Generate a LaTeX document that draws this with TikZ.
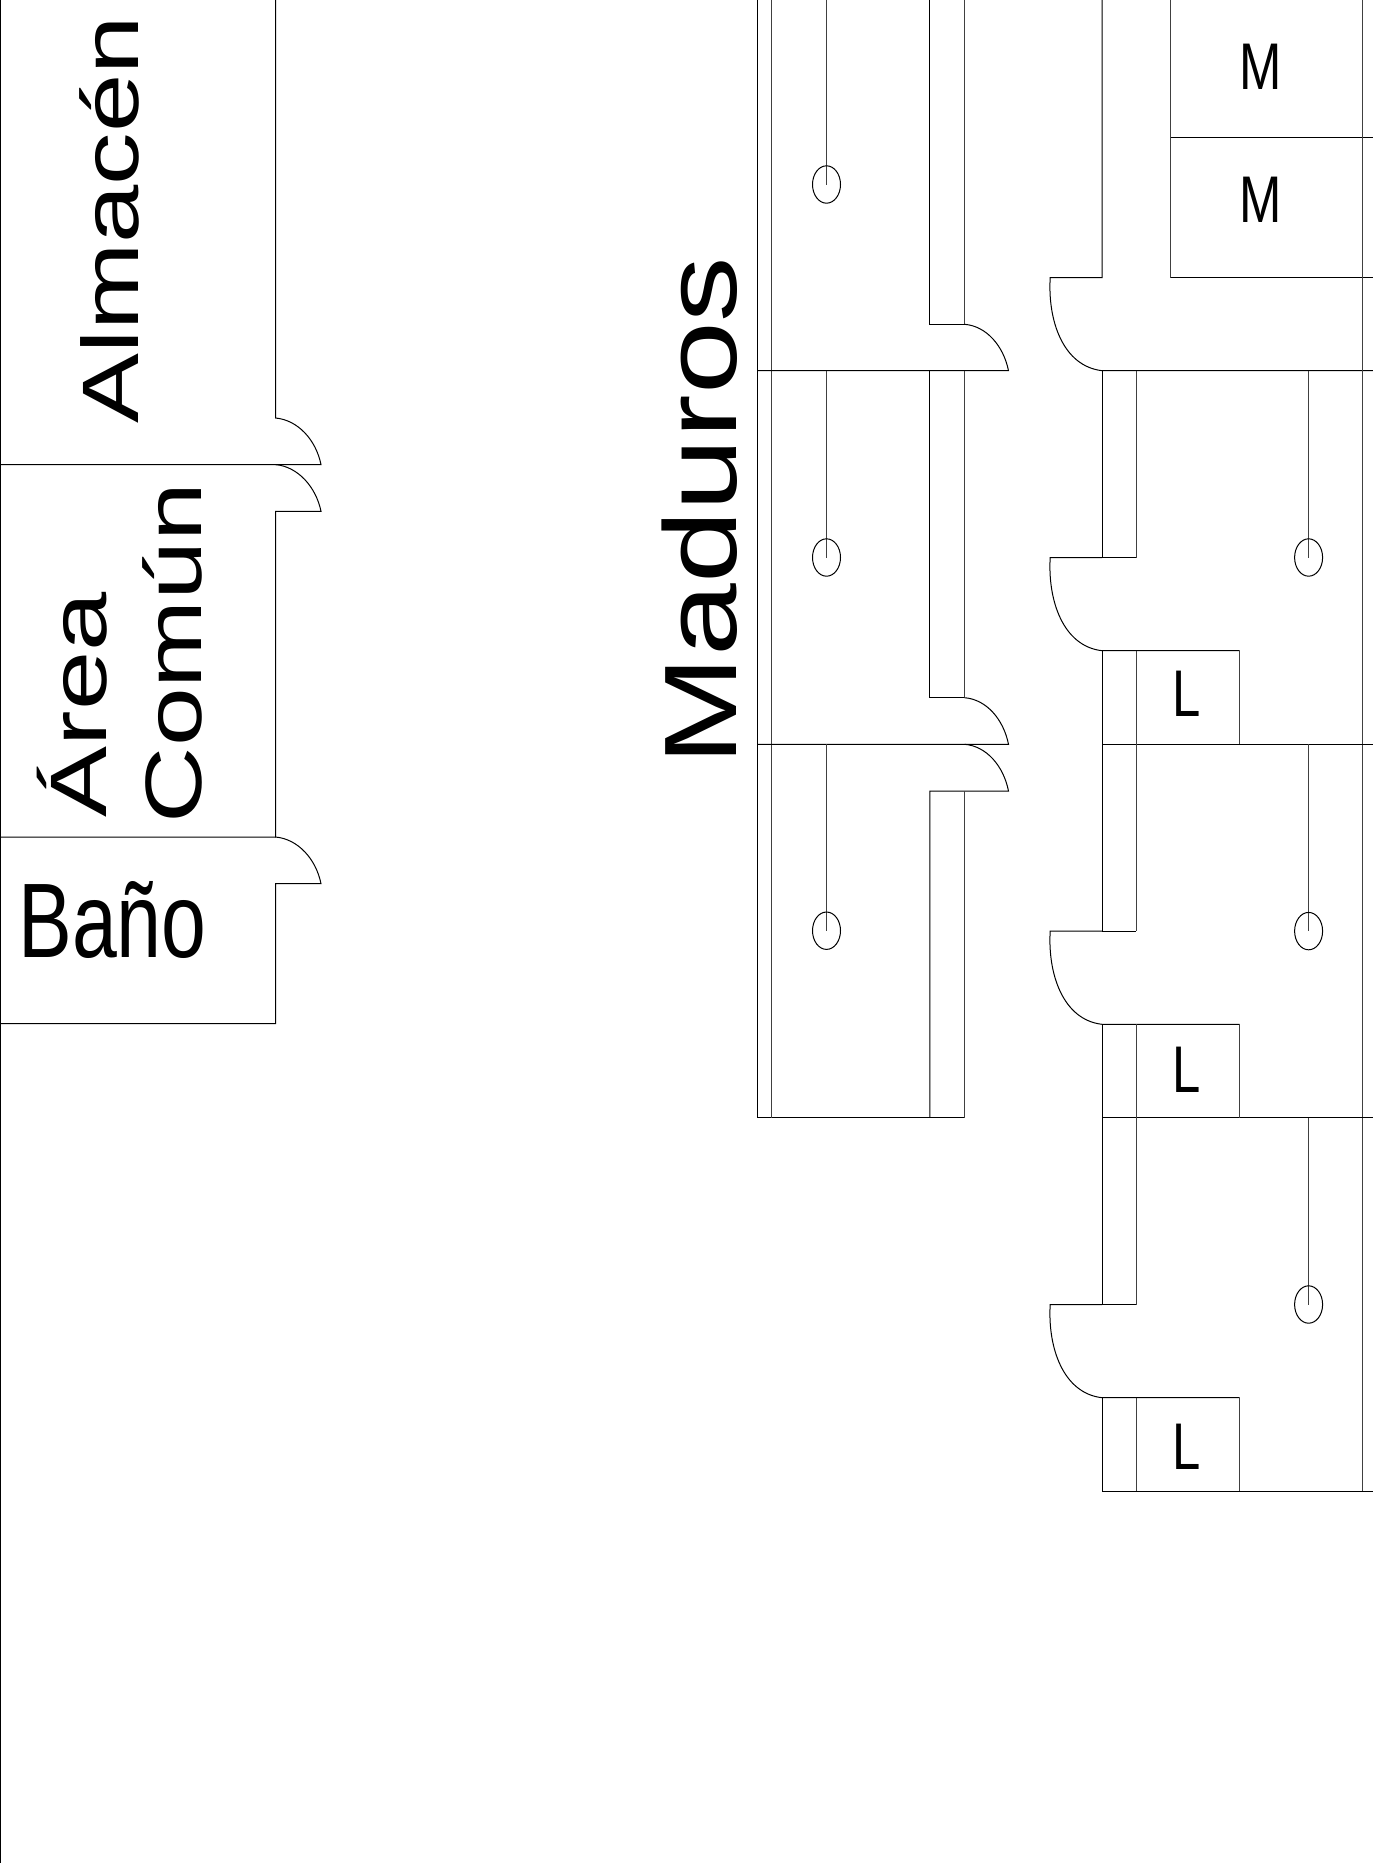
\documentclass[tikz,border=0pt]{standalone}
\usepackage{fontspec}
\setmainfont{Liberation Sans}
\tikzset{
  x=1pt,y=-1pt,
  plan/.style={line width=1pt,black},
  thin wall/.style={line width=1pt,black!75},
  label/.style={inner sep=0pt,outer sep=0pt,anchor=base,text=black},
}
\newcommand{\lab}[3]{\fontsize{#1}{#1}\selectfont\scalebox{#2}[1]{#3}}
\begin{document}
\begin{tikzpicture}
\useasboundingbox (0,0) rectangle (1373,1863);
\clip (0,0) rectangle (1373,1863);
% left block
\draw[plan] (0.7,0) -- (0.7,1863);
\draw[plan] (275.5,0) -- (275.5,418) .. controls (298,420) and (316,440) .. (321,464.6) -- (0,464.6);
\draw[plan] (275.5,464.6) .. controls (298,466.6) and (316,487) .. (321,511.3) -- (275.5,511.3) -- (275.5,837) -- (0,837);
\draw[plan] (275.5,837) .. controls (298,839) and (316,859) .. (321,883.7) -- (275.5,883.7) -- (275.5,1023.6) -- (0,1023.6);
% middle block
\draw[plan] (757.9,0) -- (757.9,1117.7) -- (964.5,1117.7);
\draw[thin wall] (771.5,0) -- (771.5,1117.7);
\draw[plan] (929.9,0) -- (929.9,324.3) -- (964.5,324.3);
\draw[thin wall] (964.5,0) -- (964.5,324.3);
\draw[plan] (964.5,324.3) .. controls (986.5,326) and (1003.5,346) .. (1008.5,370.7) -- (757.9,370.7);
\draw[plan] (929.9,370.7) -- (929.9,697.7) -- (964.5,697.7);
\draw[thin wall] (964.5,370.7) -- (964.5,697.7);
\draw[plan] (964.5,697.7) .. controls (986.5,699.4) and (1003.5,719.4) .. (1008.5,744.3) -- (757.9,744.3);
\draw[plan] (964.5,744.3) .. controls (986.5,746) and (1003.5,766) .. (1008.5,791) -- (929.9,791) -- (929.9,1117.7);
\draw[thin wall] (964.5,791) -- (964.5,1117.7);
\foreach \ya/\yb in {0/184.5,370.7/557.5,744.3/930.7}{
  \draw[thin wall] (826.5,\ya) -- (826.5,\yb);
  \draw[plan] (826.5,\yb) ellipse [x radius=14,y radius=18.7];
}
% right block
\draw[plan] (1102,0) -- (1102,277.7) -- (1050.2,277.7) .. controls (1047.6,320) and (1062.6,366) .. (1102,370.7) -- (1373,370.7);
\draw[thin wall] (1170.6,0) -- (1170.6,277.7);
\draw[plan] (1170.6,277.7) -- (1373,277.7);
\draw[plan] (1170.6,137.7) -- (1373,137.7);
\draw[thin wall] (1362.9,0) -- (1362.9,1490.7);
\foreach \y in {370.7,744.3,1117.7}{
  \pgfmathsetmacro\ydoor{\y+186.8}
  \pgfmathsetmacro\ybox{\y+280}
  \pgfmathsetmacro\yend{\y+373.4}
  \draw[plan] (1102,\y) -- (1102,\ydoor) -- (1136.2,\ydoor);
  \draw[thin wall] (1136.2,\y) -- (1136.2,\ydoor);
  \draw[plan] (1102,\ydoor) -- (1050.2,\ydoor) .. controls (1047.6,\ydoor+42) and (1062.6,\ybox-4.5) .. (1102,\ybox) -- (1239.6,\ybox);
  \draw[plan] (1102,\ybox) -- (1102,\yend) -- (1373,\yend);
  \draw[thin wall] (1136.2,\ybox) -- (1136.2,\yend);
  \draw[thin wall] (1239.6,\ybox) -- (1239.6,\yend);
  \draw[thin wall] (1308.6,\y) -- (1308.6,\ydoor);
  \draw[plan] (1308.6,\ydoor) ellipse [x radius=14,y radius=18.7];
}
% texts
\node[label,rotate=90] (almacen) at (138,220) {\lab{80}{1.31}{Almacén}};
\node[label,rotate=90] (area) at (106.7,705) {\lab{80}{1.33}{Área}};
\node[label,rotate=90] (comun) at (201,653) {\lab{80}{1.32}{Común}};
\node[label] (bano) at (112.5,957) {\lab{106}{0.76}{Baño}};
\node[label,rotate=90] (maduros) at (736,511) {\lab{103}{1.27}{Maduros}};
\node[label] (m1) at (1260.5,89.3) {\lab{66}{0.77}{M}};
\node[label] (m2) at (1260.5,222) {\lab{66}{0.77}{M}};
\node[label] (l1) at (1187,716) {\lab{66}{0.77}{L}};
\node[label] (l2) at (1187,1092.7) {\lab{66}{0.77}{L}};
\node[label] (l3) at (1187,1469) {\lab{66}{0.77}{L}};
\end{tikzpicture}
\end{document}
